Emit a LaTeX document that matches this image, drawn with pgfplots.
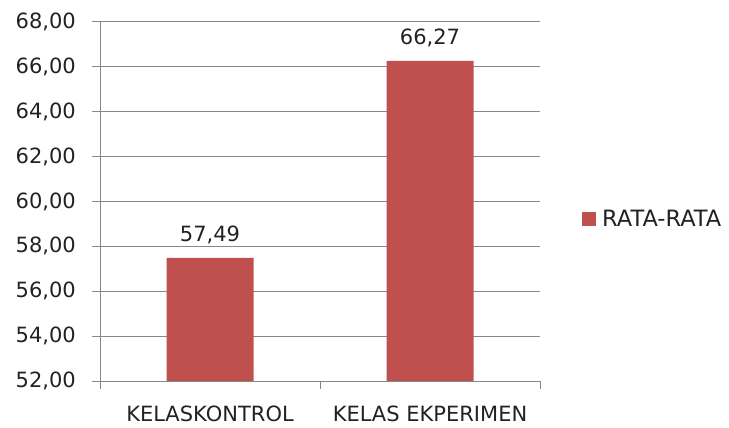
\documentclass[border=0pt]{standalone}
\usepackage{pgfplots}
\pgfplotsset{compat=1.18}
\usepackage{fontspec}
\setmainfont{DejaVu Sans}
\definecolor{barred}{HTML}{C0504D}
\definecolor{gridc}{HTML}{878787}
\definecolor{txt}{HTML}{222222}
\newcommand{\fs}{\fontsize{21bp}{25bp}\selectfont}
\begin{document}
\fs
\begin{tikzpicture}
\useasboundingbox (0,0) rectangle (729bp,428bp);
\begin{axis}[
  at={(100bp,47bp)}, anchor=south west,
  scale only axis, width=440bp, height=359bp,
  xmin=-0.5, xmax=1.5, ymin=52, ymax=68,
  axis x line*=bottom, axis y line*=left,
  axis line style={gridc, line width=1bp, -},
  ytick={52,54,...,68},
  ymajorgrids, grid style={gridc, line width=1bp},
  /pgf/number format/fixed, /pgf/number format/fixed zerofill, /pgf/number format/precision=2, /pgf/number format/use comma, /pgf/number format/assume math mode=true,
  yticklabel style={text=txt, font=\fs, xshift=-9bp},
  xtick={0,1}, xticklabels={KELASKONTROL, KELAS EKPERIMEN},
  xticklabel style={text=txt, font=\fs, yshift=-10bp},
  major tick length=8bp, tick align=outside,
  tick style={gridc, line width=1bp},
  xtick style={draw=none},
  extra x ticks={-0.5,0.5,1.5}, extra x tick labels={},
  extra x tick style={xtick style={draw=gridc, line width=1bp}, major tick length=8bp, grid=none},
  ybar, bar width=87bp,
  nodes near coords,
  nodes near coords style={text=txt, font=\fs, yshift=7bp},
  legend style={at={(axis description cs:1,0.5)}, anchor=west, xshift=39bp, yshift=-18bp, draw=none, fill=none, font=\fontsize{22.5bp}{26bp}\selectfont, text=txt},
  legend image code/.code={\fill[#1] (0bp,-7bp) rectangle (14bp,7bp);},
  legend style={nodes={inner xsep=6bp}},
]
\addplot[fill=barred, draw=none] coordinates {(0,57.49) (1,66.27)};
\addlegendentry{RATA-RATA}
\end{axis}
\end{tikzpicture}
\end{document}
